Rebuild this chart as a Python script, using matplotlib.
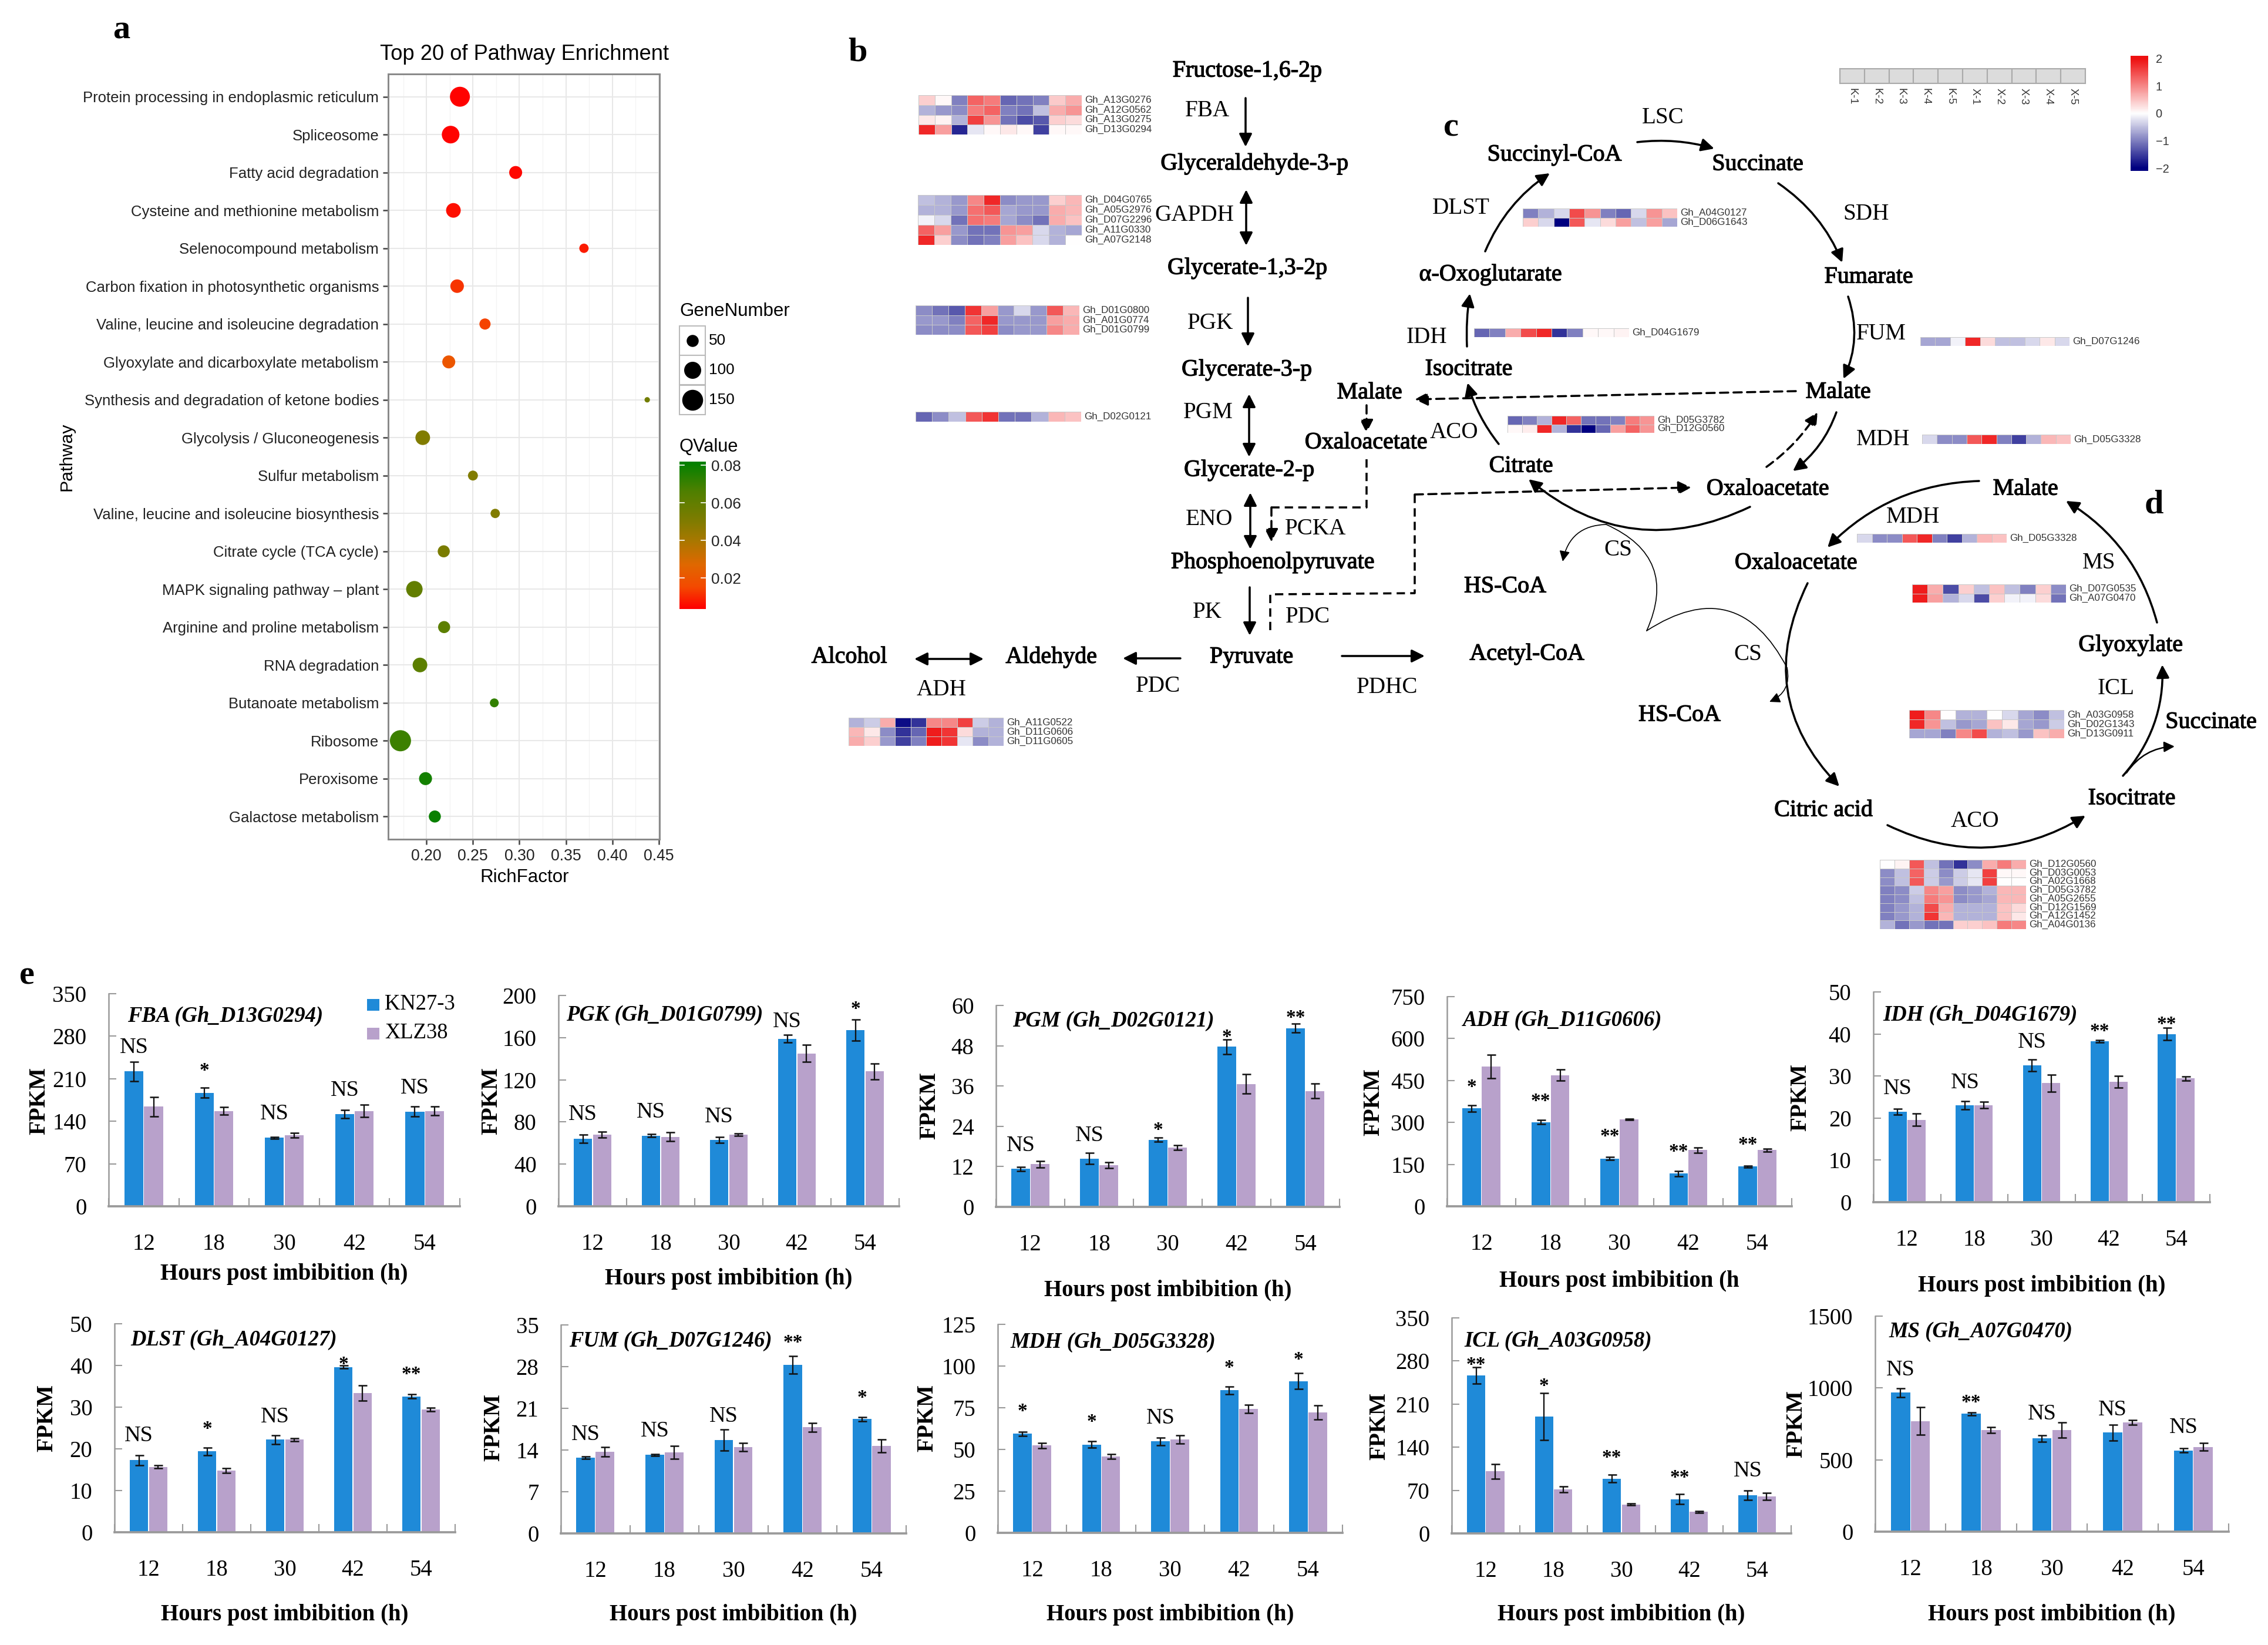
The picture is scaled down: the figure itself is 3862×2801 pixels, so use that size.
import numpy as np
import matplotlib
matplotlib.use("Agg")
import matplotlib.pyplot as plt
import matplotlib.patheffects as pe
from matplotlib.colors import LinearSegmentedColormap, Normalize
from matplotlib.patches import FancyArrowPatch, Rectangle

W, H = 3862, 2801
DPI = 300
SERIF = "Liberation Serif"
SANS = "Liberation Sans"

# ---------------- panel a data ----------------
PATHWAYS = ["Protein processing in endoplasmic reticulum", "Spliceosome", "Fatty acid degradation",
            "Cysteine and methionine metabolism", "Selenocompound metabolism",
            "Carbon fixation in photosynthetic organisms", "Valine, leucine and isoleucine degradation",
            "Glyoxylate and dicarboxylate metabolism", "Synthesis and degradation of ketone bodies",
            "Glycolysis / Gluconeogenesis", "Sulfur metabolism", "Valine, leucine and isoleucine biosynthesis",
            "Citrate cycle (TCA cycle)", "MAPK signaling pathway \u2013 plant", "Arginine and proline metabolism",
            "RNA degradation", "Butanoate metabolism", "Ribosome", "Peroxisome", "Galactose metabolism"]
RICH = [.236, .226, .296, .229, .3695, .233, .263, .224, .4376, .196, .250, .274, .2186, .187, .219, .193, .273, .172, .199, .209]
GENES = [137, 107, 58, 74, 30, 63, 43, 58, 10, 74, 34, 30, 50, 93, 50, 74, 27, 154, 58, 50]
QVAL = [.004, .004, .005, .006, .008, .012, .014, .02, .055, .05, .05, .05, .052, .06, .062, .062, .072, .07, .078, .08]
GENE_LEGEND = [50, 100, 150]
Q_TICKS = [.02, .04, .06, .08]
RICH_TICKS = [.20, .25, .30, .35, .40, .45]

# ---------------- heatmap data ----------------
HM_FBA = [[0.4,0.05,-1.0,1.3,1.1,-1.2,-1.1,-1.0,0.45,0.7],[-0.6,-0.8,-0.9,1.1,1.3,-1.0,-1.1,-0.5,0.7,0.9],
          [0.2,0.1,-0.6,1.6,0.9,-1.1,-1.4,-1.3,0.4,0.3],[1.8,0.8,-1.7,-0.2,0.05,0.2,0.05,-1.5,0.05,0.05]]
HM_GAPDH = [[-0.5,-0.6,-0.8,1.0,1.8,-0.9,-0.8,-0.8,0.4,0.6],[-0.6,-0.6,-0.8,1.2,1.4,-0.7,-0.8,-0.8,0.7,0.6],
            [-0.1,-0.3,-1.1,1.2,1.1,-0.7,-0.9,-1.1,0.7,0.5],[1.3,0.8,-0.8,-1.1,-1.1,0.9,0.8,-0.3,-0.6,-0.7],
            [1.8,0.4,-0.9,-1.1,-1.0,0.8,0.5,-0.3,-0.6,0.0]]
HM_PGK = [[-0.9,-1.1,-1.3,1.7,0.8,-0.8,-0.3,-0.8,1.4,0.6],[-0.8,-0.8,-1.0,1.3,1.8,-0.8,-0.8,-0.8,0.8,0.7],
          [-0.9,-0.9,-0.9,1.4,1.6,-0.9,-0.8,-0.8,1.0,0.7]]
HM_PGM = [[-1.2,-0.9,-0.5,1.4,1.7,-1.1,-1.1,-0.6,0.6,0.5]]
HM_ADH = [[-0.6,-0.4,0.7,-1.9,-1.6,1.0,1.0,1.6,-0.4,-0.6],[0.6,0.2,-0.9,-1.6,-1.2,1.9,1.7,0.3,-0.6,-0.6],
          [0.7,0.4,-0.8,-1.5,-1.0,1.9,1.7,-0.2,-0.9,-0.6]]
HM_DLST = [[-1,-.6,-.3,1.5,.9,-1.0,-1.2,-.3,.9,.5],[.4,-.3,-2,1.4,-.2,.3,.8,-.5,.8,-.7]]
HM_IDH = [[-1.2,-1,.7,1.5,1.8,-1.6,-1,.05,.05,.1]]
HM_ACO = [[-1.2,-1,-.6,1.8,1.3,-1.1,-1.1,-1,1.1,.9],[.05,.15,1.8,-.6,-1.6,-2,-1.2,.8,1.3,.9]]
HM_FUM = [[-.7,-.7,-.1,1.8,.3,-.5,-.5,-.3,.2,-.3]]
HM_MDH = [[-.3,-.9,-.9,1.4,1.8,-1,-1.5,-.6,.6,.5]]
HM_MS = [[1.9,.7,-1.4,.4,-.5,.5,-.5,-1,.4,-.9],[1.9,.8,-.6,-.3,-1.4,.4,-.1,-.1,.3,-1.1]]
HM_ICL = [[1.9,1,0,-.6,-.6,0,-.3,-.7,-.9,-.5],[1.8,.9,-.5,-.8,-.7,.5,.2,-.7,-.8,-.4],[-.7,-.7,-1,1,1.5,-.6,-.5,-.8,.5,.7]]
HM_ACO2 = [[0,.1,1.4,-.5,-1.1,-1.6,-.9,.7,1.1,.7],[-.9,-.5,1.3,-.4,-.9,-.4,-.2,1.6,.05,.05],
           [-.9,-.5,1.4,-.4,-.8,-.4,-.2,1.6,0,0],[-1,-.9,-.4,1.0,.8,-.9,-.8,-.6,.6,.6],
           [-1,-.9,-.5,1.1,.9,-.9,-.8,-.7,.6,.6],[-1,-.8,-.6,1.5,.7,-.6,-.6,-.6,.5,.3],
           [-1,-.8,-.6,1.7,.6,-.6,-.6,-.6,.5,.2],[-.6,-1.1,-.8,-1.1,-1.1,.4,.4,.5,1.1,1]]
SAMPLES = ["K-1", "K-2", "K-3", "K-4", "K-5", "X-1", "X-2", "X-3", "X-4", "X-5"]
HM_TICKS = [2, 1, 0, -1, -2]

# ---------------- panel e data ----------------
HOURS = ["12", "18", "30", "42", "54"]
FBA_KN = [222, 187, 113, 152, 156]; FBA_XLZ = [164, 157, 117, 157, 157]
FBA_KN_E = [16, 8, 1.5, 7, 8]; FBA_XLZ_E = [16, 6, 4, 10, 7]
FBA_SIG = ["NS", "*", "NS", "NS", "NS"]; FBA_SIG_Y = [261, 233, 152, 191, 195]
PGK_KN = [64, 67, 63, 159, 167]; PGK_XLZ = [68, 66, 68, 145, 128]
PGK_KN_E = [4, 1.5, 2.7, 3.7, 10]; PGK_XLZ_E = [3, 4, 1, 8, 7.5]
PGK_SIG = ["NS", "NS", "NS", "NS", "*"]; PGK_SIG_Y = [87, 89, 85, 175, 192.5]
PGM_KN = [11.3, 14.4, 20, 47.7, 53.2]; PGM_XLZ = [12.7, 12.4, 17.7, 36.6, 34.5]
PGM_KN_E = [.6, 1.7, .6, 2.2, 1.3]; PGM_XLZ_E = [1, .85, .7, 2.9, 2.2]
PGM_SIG = ["NS", "NS", "*", "*", "**"]; PGM_SIG_Y = [18.3, 21.2, 24.5, 52.2, 58]
ADH_KN = [350, 301, 171, 117, 142]; ADH_XLZ = [499, 469, 310, 201, 201]
ADH_KN_E = [11, 7.5, 6, 9, 4]; ADH_XLZ_E = [42, 20, 2, 9, 5]
ADH_SIG = ["*", "**", "**", "**", "**"]; ADH_SIG_Y = [446, 396, 271, 216, 241]
IDH_KN = [21.5, 23, 32.5, 38.3, 40]; IDH_XLZ = [19.6, 23.1, 28.3, 28.6, 29.4]
IDH_KN_E = [.75, 1, 1.4, .3, 1.45]; IDH_XLZ_E = [1.5, .75, 2, 1.4, .5]
IDH_SIG = ["NS", "NS", "NS", "**", "**"]; IDH_SIG_Y = [27, 28.4, 38, 41.9, 43.6]
DLST_KN = [17.3, 19.4, 22.2, 39.6, 32.6]; DLST_XLZ = [15.7, 14.8, 22.2, 33.4, 29.4]
DLST_KN_E = [1.2, .9, 1.1, .35, .5]; DLST_XLZ_E = [.3, .6, .35, 1.8, .4]
DLST_SIG = ["NS", "*", "NS", "*", "**"]; DLST_SIG_Y = [23.1, 26.1, 27.7, 41.6, 39.2]
FUM_KN = [12.7, 13.2, 15.7, 28.3, 19.2]; FUM_XLZ = [13.7, 13.6, 14.5, 17.8, 14.7]
FUM_KN_E = [.2, .15, 1.8, 1.5, .35]; FUM_XLZ_E = [.75, 1.1, .7, .7, 1.1]
FUM_SIG = ["NS", "NS", "NS", "**", "*"]; FUM_SIG_Y = [16.6, 17.2, 19.6, 33, 23.7]
MDH_KN = [59.4, 52.9, 54.8, 85.5, 90.9]; MDH_XLZ = [52.3, 45.8, 56, 74.3, 72.2]
MDH_KN_E = [1.2, 2, 2.2, 2.3, 4.7]; MDH_XLZ_E = [1.5, 1.4, 2.6, 2.5, 4.2]
MDH_SIG = ["*", "*", "NS", "*", "*"]; MDH_SIG_Y = [76.4, 69.8, 68.9, 102.2, 107.2]
ICL_KN = [256.5, 190, 89, 55.5, 62]; ICL_XLZ = [100.7, 71.7, 47, 35, 60]
ICL_KN_E = [13, 38, 6, 8, 8]; ICL_XLZ_E = [12, 5, 1.5, 1.5, 5.5]
ICL_SIG = ["**", "*", "**", "**", "NS"]; ICL_SIG_Y = [282.7, 248, 132.5, 99.6, 101.4]
MS_KN = [967, 820, 649, 689, 566]; MS_XLZ = [770, 707, 707, 760, 590]
MS_KN_E = [29, 10, 22, 55, 13]; MS_XLZ_E = [97, 22, 55, 15, 26]
MS_SIG = ["NS", "**", "NS", "NS", "NS"]; MS_SIG_Y = [1126, 940, 819, 849, 725]

fig = plt.figure(figsize=(W / DPI, H / DPI), dpi=DPI, facecolor="white")


def box(x0, y0, x1, y1, **kw):
    return fig.add_axes([x0 / W, 1 - y1 / H, (x1 - x0) / W, (y1 - y0) / H], **kw)


ov = box(0, 0, W, H, zorder=10)
ov.set_xlim(0, W); ov.set_ylim(H, 0); ov.axis("off"); ov.patch.set_alpha(0)


def T(x, y, s, size=8.6, weight="bold", family=SERIF, ha="center", va="center", **kw):
    return ov.text(x, y, s, fontsize=size, fontweight=weight, family=family, ha=ha, va=va, color="black", **kw)


# ---------------- panel a ----------------
stops = [(0, "#ff0000"), (.15, "#f44a00"), (.3, "#e06800"), (.465, "#a87800"), (.6, "#7f7c00"), (.8, "#4f8000"), (1, "#008000")]
qcmap = LinearSegmentedColormap.from_list("q", stops)
qnorm = Normalize(.0035, .082)
size_pt = lambda n: (2.9 * np.sqrt(np.asarray(n, float)) * 72 / DPI) ** 2

axa = box(661, 126, 1123, 1429)
ypos = np.arange(len(PATHWAYS))
axa.scatter(RICH, ypos, s=size_pt(GENES), c=QVAL, cmap=qcmap, norm=qnorm, linewidths=0, zorder=3)
axa.set_ylim(len(PATHWAYS) - .4, -.6)
axa.set_xlim(.1588, .4508)
axa.set_yticks(ypos, PATHWAYS, family=SANS, fontsize=6.2, color="#222222")
axa.set_xticks(RICH_TICKS, [f"{v:.2f}" for v in RICH_TICKS], family=SANS, fontsize=6.4, color="#222222")
axa.set_xticks(np.arange(.175, .45, .05), minor=True)
axa.grid(True, which="major", color="#e8e8e8", lw=.5)
axa.grid(True, which="minor", axis="x", color="#f3f3f3", lw=.3)
axa.set_axisbelow(True)
axa.tick_params(which="major", length=2.2, width=.6, color="#444444", pad=1.6)
axa.tick_params(which="minor", length=0)
for s in axa.spines.values():
    s.set_color("#888888"); s.set_linewidth(.7)
T(893, 92, "Top 20 of Pathway Enrichment", 8.7, "normal", SANS)
T(893, 1494, "RichFactor", 7.5, "normal", SANS)
T(113, 778, "Pathway", 7.3, "normal", SANS, rotation=90)
T(1157, 530, "GeneNumber", 7.5, "normal", SANS, ha="left")
T(1157, 761, "QValue", 7.4, "normal", SANS, ha="left")
for n, y0, y1 in zip(GENE_LEGEND, [555, 605, 656], [605, 655, 706]):
    ov.add_patch(Rectangle((1157, y0), 44, y1 - y0, fc="white", ec="#bbbbbb", lw=.5))
    ov.scatter([1179], [(y0 + y1) / 2], s=size_pt([n]), c="black", linewidths=0)
    T(1207, (y0 + y1) / 2, str(n), 6.3, "normal", SANS, ha="left")
cb = box(1157, 786, 1202, 1037)
grad = np.linspace(.082, .0035, 256).reshape(-1, 1)
cb.imshow(grad, aspect="auto", cmap=qcmap, norm=qnorm, extent=[0, 1, .0035, .082])
cb.set_xticks([])
cb.set_yticks(Q_TICKS, [f"{v:.2f}" for v in Q_TICKS], family=SANS, fontsize=6.3, color="#222222")
cb.yaxis.tick_right()
cb.tick_params(axis="y", length=0, pad=2.2)
for v in Q_TICKS:
    cb.plot([0, .18], [v, v], color="white", lw=.4)
    cb.plot([.82, 1], [v, v], color="white", lw=.4)
cb.set_xlim(0, 1); cb.set_ylim(.0035, .082)
for s in cb.spines.values():
    s.set_visible(False)

# ---------------- heatmaps ----------------
hm_cmap = LinearSegmentedColormap.from_list("hm", ["#000080", "#ffffff", "#ee1111"])


def heat(data, x0, y0, x1, y1, genes):
    ax = box(x0, y0, x1, y1)
    d = np.array(data, float)
    ax.pcolormesh(d, cmap=hm_cmap, vmin=-2, vmax=2, edgecolors="#c8c8c8", linewidth=.15)
    ax.set_ylim(d.shape[0], 0); ax.set_xlim(0, d.shape[1]); ax.axis("off")
    n = len(genes)
    for i, g in enumerate(genes):
        yy = y0 + (y1 - y0) * (i + .5) / n
        ov.text(x1 + 5, yy, g, fontsize=4.1, family=SANS, ha="left", va="center", color="#333333")


heat(HM_FBA, 1564, 162, 1842, 229, ["Gh_A13G0276", "Gh_A12G0562", "Gh_A13G0275", "Gh_D13G0294"])
heat(HM_GAPDH, 1563, 332, 1842, 417, ["Gh_D04G0765", "Gh_A05G2976", "Gh_D07G2296", "Gh_A11G0330", "Gh_A07G2148"])
heat(HM_PGK, 1559, 520, 1838, 570, ["Gh_D01G0800", "Gh_A01G0774", "Gh_D01G0799"])
heat(HM_PGM, 1559, 701, 1841, 718, ["Gh_D02G0121"])
heat(HM_ADH, 1445, 1222, 1709, 1270, ["Gh_A11G0522", "Gh_D11G0606", "Gh_D11G0605"])
heat(HM_DLST, 2593, 355, 2856, 386, ["Gh_A04G0127", "Gh_D06G1643"])
heat(HM_IDH, 2510, 559, 2774, 574, ["Gh_D04G1679"])
heat(HM_ACO, 2567, 708, 2817, 737, ["Gh_D05G3782", "Gh_D12G0560"])
heat(HM_FUM, 3270, 574, 3524, 589, ["Gh_D07G1246"])
heat(HM_MDH, 3273, 740, 3526, 756, ["Gh_D05G3328"])
heat(HM_MDH, 3162, 909, 3417, 924, ["Gh_D05G3328"])
heat(HM_MS, 3256, 995, 3518, 1026, ["Gh_D07G0535", "Gh_A07G0470"])
heat(HM_ICL, 3251, 1209, 3515, 1257, ["Gh_A03G0958", "Gh_D02G1343", "Gh_D13G0911"])
heat(HM_ACO2, 3201, 1464, 3450, 1582, ["Gh_D12G0560", "Gh_D03G0053", "Gh_A02G1668", "Gh_D05G3782",
                                       "Gh_A05G2655", "Gh_D12G1569", "Gh_A12G1452", "Gh_A04G0136"])
# sample strip
strip = box(3133, 117, 3551, 142)
for i in range(len(SAMPLES)):
    strip.add_patch(Rectangle((i, 0), 1, 1, fc="#dcdcdc", ec="#aaaaaa", lw=.5))
strip.set_xlim(0, len(SAMPLES)); strip.set_ylim(0, 1)
strip.set_xticks(np.arange(len(SAMPLES)) + .5, SAMPLES, rotation=270, family=SANS, fontsize=4.4, color="#333333")
strip.set_yticks([]); strip.tick_params(length=0, pad=2)
for s in strip.spines.values():
    s.set_color("#aaaaaa"); s.set_linewidth(.5)
# colour key
key = box(3628, 95, 3658, 291)
key.imshow(np.linspace(2.1, -2.1, 256).reshape(-1, 1), aspect="auto", cmap=hm_cmap, vmin=-2, vmax=2,
           extent=[0, 1, -2.1, 2.1])
key.set_xticks([])
key.set_yticks(HM_TICKS, ["2", "1", "0", "\u22121", "\u22122"], family=SANS, fontsize=4.8, color="#333333")
key.yaxis.tick_right(); key.tick_params(length=0, pad=3)
for s in key.spines.values():
    s.set_visible(False)

# ---------------- pathway labels ----------------
METAB = [(2124, 119, "Fructose-1,6-2p"), (2136, 277, "Glyceraldehyde-3-p"), (2124, 455, "Glycerate-1,3-2p"),
         (2123, 628, "Glycerate-3-p"), (2127, 799, "Glycerate-2-p"), (2167, 956, "Phosphoenolpyruvate"),
         (2131, 1117, "Pyruvate"), (1446, 1117, "Alcohol"), (1790, 1117, "Aldehyde"), (2600, 1112, "Acetyl-CoA"),
         (2332, 667, "Malate"), (2326, 752, "Oxaloacetate"), (2590, 792, "Citrate"), (2501, 627, "Isocitrate"),
         (2538, 466, "\u03b1-Oxoglutarate"), (2563, 997, "HS-CoA"), (2647, 262, "Succinyl-CoA"),
         (2993, 278, "Succinate"), (3182, 470, "Fumarate"), (3130, 666, "Malate"), (3010, 831, "Oxaloacetate"),
         (3449, 831, "Malate"), (3058, 957, "Oxaloacetate"), (3628, 1097, "Glyoxylate"), (2860, 1216, "HS-CoA"),
         (3765, 1228, "Succinate"), (3630, 1358, "Isocitrate"), (3105, 1378, "Citric acid")]
ENZ = [(2056, 186, "FBA"), (2034, 365, "GAPDH"), (2061, 548, "PGK"), (2057, 701, "PGM"), (2059, 883, "ENO"),
       (2240, 898, "PCKA"), (2056, 1041, "PK"), (2227, 1048, "PDC"), (1972, 1167, "PDC"), (2362, 1169, "PDHC"),
       (1603, 1173, "ADH"), (2476, 735, "ACO"), (2429, 573, "IDH"), (2488, 353, "DLST"), (2832, 199, "LSC"),
       (3178, 363, "SDH"), (3203, 567, "FUM"), (3207, 747, "MDH"), (3258, 878, "MDH"), (3574, 956, "MS"),
       (2755, 934, "CS"), (2976, 1112, "CS"), (3603, 1171, "ICL"), (3363, 1397, "ACO")]
stroke = [pe.withStroke(linewidth=.3, foreground="black")]
for x, y, s in METAB:
    T(x, y + 2, s, 9.6, "normal", path_effects=stroke)
for x, y, s in ENZ:
    T(x, y + 2, s, 9.4, "normal")
for x, y, s in [(207, 52, "a"), (1461, 89, "b"), (2471, 217, "c"), (3668, 859, "d"), (46, 1662, "e")]:
    T(x, y, s, 14, "bold")


def arrow(p, q, style="-|>", rad=0, lw=.85, ls="-", ms=11):
    ov.add_patch(FancyArrowPatch(p, q, arrowstyle=style, connectionstyle=f"arc3,rad={rad}", mutation_scale=ms,
                                 lw=lw, ls=ls, color="black", shrinkA=0, shrinkB=0, zorder=4))


for x, a, b, st in [(2121, 167, 250, "-|>"), (2122, 323, 418, "<|-|>"), (2125, 507, 590, "-|>"),
                    (2127, 671, 778, "<|-|>"), (2129, 839, 935, "<|-|>"), (2128, 1000, 1082, "-|>")]:
    arrow((x, a), (x, b), st)
arrow((2010, 1121), (1912, 1121))
arrow((1557, 1122), (1675, 1122), "<|-|>")
arrow((2285, 1117), (2426, 1117))
DASH = (0, (4, 2.5))
arrow((2327, 690), (2327, 737), ls=DASH)
ov.plot([2327, 2327, 2165], [782, 864, 864], color="k", lw=.85, ls=DASH)
arrow((2165, 864), (2165, 923), ls=DASH)
ov.plot([2163, 2163, 2409, 2409], [1073, 1012, 1010, 842], color="k", lw=.85, ls=DASH)
arrow((2409, 842), (2880, 830), ls=DASH)
arrow((3058, 666), (2409, 680), ls=DASH)
arrow((2498, 590), (2503, 500), rad=-.05)
arrow((2529, 428), (2639, 295), rad=-.15)
arrow((2788, 242), (2919, 253), rad=-.1)
arrow((3028, 312), (3137, 447), rad=-.15)
arrow((3147, 505), (3139, 645), rad=-.2)
arrow((3127, 702), (3053, 802), rad=-.15)
arrow((3008, 795), (3095, 702), rad=.1, ls=DASH)
arrow((2980, 863), (2603, 816), rad=-.32)
arrow((2552, 756), (2499, 652), rad=-.1)
arrow((2804, 1074), (2735, 893), "-", rad=.5, lw=.4)
arrow((2735, 893), (2661, 956), rad=.4, lw=.4, ms=9)
arrow((2804, 1074), (3043, 1137), "-", rad=-.55, lw=.4)
arrow((3043, 1137), (3013, 1195), rad=-.4, lw=.4, ms=9)
arrow((3370, 819), (3112, 932), rad=.2)
arrow((3078, 993), (3132, 1339), rad=.35)
arrow((3214, 1405), (3551, 1389), rad=.27)
arrow((3615, 1321), (3682, 1132), rad=.2)
arrow((3673, 1060), (3518, 853), rad=.2)
arrow((3621, 1316), (3703, 1271), rad=-.25, lw=.6, ms=9)

# ---------------- panel e ----------------
BLUE, PURPLE = "#1f8ad8", "#b8a1cb"
PANELS = [
    ("FBA (Gh_D13G0294)", FBA_KN, FBA_XLZ, FBA_KN_E, FBA_XLZ_E, FBA_SIG, FBA_SIG_Y, 350, 70),
    ("PGK (Gh_D01G0799)", PGK_KN, PGK_XLZ, PGK_KN_E, PGK_XLZ_E, PGK_SIG, PGK_SIG_Y, 200, 40),
    ("PGM (Gh_D02G0121)", PGM_KN, PGM_XLZ, PGM_KN_E, PGM_XLZ_E, PGM_SIG, PGM_SIG_Y, 60, 12),
    ("ADH (Gh_D11G0606)", ADH_KN, ADH_XLZ, ADH_KN_E, ADH_XLZ_E, ADH_SIG, ADH_SIG_Y, 750, 150),
    ("IDH (Gh_D04G1679)", IDH_KN, IDH_XLZ, IDH_KN_E, IDH_XLZ_E, IDH_SIG, IDH_SIG_Y, 50, 10),
    ("DLST (Gh_A04G0127)", DLST_KN, DLST_XLZ, DLST_KN_E, DLST_XLZ_E, DLST_SIG, DLST_SIG_Y, 50, 10),
    ("FUM (Gh_D07G1246)", FUM_KN, FUM_XLZ, FUM_KN_E, FUM_XLZ_E, FUM_SIG, FUM_SIG_Y, 35, 7),
    ("MDH (Gh_D05G3328)", MDH_KN, MDH_XLZ, MDH_KN_E, MDH_XLZ_E, MDH_SIG, MDH_SIG_Y, 125, 25),
    ("ICL (Gh_A03G0958)", ICL_KN, ICL_XLZ, ICL_KN_E, ICL_XLZ_E, ICL_SIG, ICL_SIG_Y, 350, 70),
    ("MS (Gh_A07G0470)", MS_KN, MS_XLZ, MS_KN_E, MS_XLZ_E, MS_SIG, MS_SIG_Y, 1500, 500),
]
# axes box, x-label y, FPKM x and y, title x and y
LAYOUT = [
    ((185, 1692, 783, 2054), 2170, 67, 1874, 217, 1730),
    ((951, 1695, 1531, 2054), 2178, 837, 1875, 964, 1728),
    ((1696, 1712, 2281, 2055), 2198, 1583, 1883, 1724, 1738),
    ((2464, 1697, 3051, 2054), 2182, 2339, 1876, 2491, 1737),
    ((3190, 1689, 3763, 2047), 2190, 3066, 1869, 3206, 1728),
    ((195, 2254, 775, 2609), 2750, 80, 2414, 222, 2281),
    ((955, 2256, 1543, 2611), 2750, 841, 2430, 969, 2283),
    ((1699, 2255, 2286, 2610), 2750, 1579, 2415, 1720, 2285),
    ((2472, 2244, 3050, 2611), 2750, 2349, 2428, 2493, 2283),
    ((3193, 2241, 3795, 2608), 2750, 3059, 2425, 3216, 2267),
]
GREY = "#9a9a9a"
for (title, kn, xlz, ke, xe, sig, sigy, top, step), (bx, xl_y, fx, fy, tx, ty) in zip(PANELS, LAYOUT):
    ax = box(*bx)
    ax.patch.set_alpha(0)
    xs = np.arange(len(HOURS))
    off, bw = .14, .27
    ax.bar(xs - off, kn, bw, color=BLUE, zorder=2)
    ax.bar(xs + off, xlz, bw, color=PURPLE, zorder=2)
    ekw = dict(fmt="none", ecolor="#111111", elinewidth=.55, capsize=1.8, capthick=.6, zorder=3)
    ax.errorbar(xs - off, kn, yerr=ke, **ekw)
    ax.errorbar(xs + off, xlz, yerr=xe, **ekw)
    ax.set_xlim(-.5, 4.5); ax.set_ylim(0, top)
    ax.set_yticks(np.arange(0, top + 1, step))
    ax.set_yticklabels([str(v) for v in np.arange(0, top + 1, step)], family=SERIF, fontsize=9.3)
    ax.set_xticks(xs, HOURS, family=SERIF, fontsize=9.3)
    ax.set_xticks(np.arange(-.5, 5, 1), minor=True)
    ax.tick_params(axis="x", which="major", length=0, pad=11)
    ax.tick_params(axis="x", which="minor", direction="in", length=3.3, width=.5, color=GREY)
    ax.tick_params(axis="y", direction="in", length=3.2, width=.5, color=GREY, pad=9)
    for k in ("top", "right"):
        ax.spines[k].set_visible(False)
    ax.spines["left"].set_color(GREY); ax.spines["left"].set_linewidth(.6)
    ax.spines["bottom"].set_color(GREY); ax.spines["bottom"].set_linewidth(.9)
    for i, (s, y) in enumerate(zip(sig, sigy)):
        if s == "NS":
            ax.text(i - off, y, s, family=SERIF, fontsize=9.2, ha="center", va="center", clip_on=False)
        else:
            ax.annotate(s, (i - off, y), xytext=(0, -2.4), textcoords="offset points", family=SERIF,
                        fontsize=8, fontweight="bold", ha="center", va="center", annotation_clip=False)
    T((bx[0] + bx[2]) / 2, xl_y, "Hours post imbibition (h" if title.startswith("ADH") else "Hours post imbibition (h)", 9.3)
    T(fx, fy, "FPKM", 9.4, "bold", rotation=90)
    T(tx, ty, title, 8.8, "bold", ha="left", style="italic")

ov.add_patch(Rectangle((625, 1701), 21, 20, fc=BLUE, ec="none"))
ov.add_patch(Rectangle((625, 1750), 21, 20, fc=PURPLE, ec="none"))
T(655, 1710, "KN27-3", 8.8, "normal", ha="left")
T(655, 1759, "XLZ38", 8.8, "normal", ha="left")

fig.savefig("out.png", dpi=DPI, facecolor="white")
